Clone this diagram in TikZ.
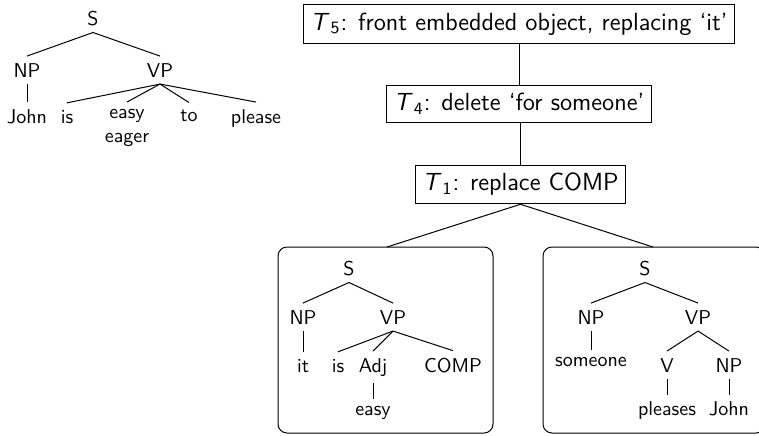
\documentclass[tikz,border=0pt]{standalone}
\renewcommand{\familydefault}{\sfdefault}
\newcommand{\tname}[1]{\textit{T}\kern0.5pt\textsubscript{#1}}
\begin{document}
\begin{tikzpicture}[x=0.5pt,y=-0.5pt,
  lab/.style={anchor=base,inner sep=3.33pt,font=\fontsize{10}{12}\selectfont},
  stack/.style={anchor=north,inner sep=3.33pt,align=center,font=\fontsize{10}{11}\selectfont},
  tbox/.style={draw,line width=0.5pt,inner xsep=3.5pt,inner ysep=4pt,font=\fontsize{12.4}{14}\selectfont},
  frame/.style={draw,line width=0.5pt,rounded corners=4.5pt},
  edge/.style={line width=0.5pt}]
\useasboundingbox (0,0) rectangle (759,435);

% sentence tree: John is easy/eager to please
\node[lab] (s0) at (93,25) {S};
\node[lab] (np0) at (27,77) {NP};
\node[lab] (vp0) at (160,77) {VP};
\node[lab] (john0) at (27,123) {John};
\node[lab] (is0) at (67,123) {is};
\node[stack] (adj0) at (127,102) {easy\\[1pt]eager};
\node[lab] (to0) at (189,121) {to};
\node[lab] (pl0) at (256,123) {please};
\draw[edge] (s0.south) -- (np0.north);
\draw[edge] (s0.south) -- (vp0.north);
\draw[edge] (np0.south) -- (john0.north);
\foreach \c in {is0,adj0,to0,pl0} \draw[edge] (vp0.south) -- (\c.north);

% chain of transformations
\node[tbox] (t5) at (519,24) {\tname{5}: front embedded object, replacing `it'};
\node[tbox] (t4) at (519,104) {\tname{4}: delete `for someone'};
\node[tbox] (t1) at (520.5,184.5) {\tname{1}: replace COMP};
\draw[edge] (t4.north) -- (t4.north |- t5.south);
\draw[edge] (t1.north) -- (t1.north |- t4.south);

% underlying clauses
\draw[frame] (278,247) rectangle (493,433);
\draw[frame] (543,247) rectangle (765,433);
\coordinate (lt) at (387,247);
\coordinate (rt) at (653,247);
\draw[edge] (t1.south) -- (lt);
\draw[edge] (t1.south) -- (rt);

% it is easy COMP
\node[lab] (s1) at (349,275) {S};
\node[lab] (np1) at (303,324) {NP};
\node[lab] (vp1) at (393,324) {VP};
\node[lab] (it1) at (303,372) {it};
\node[lab] (is1) at (338,372) {is};
\node[lab] (adj1) at (373,372) {Adj};
\node[lab] (comp1) at (453,372) {COMP};
\node[lab] (easy1) at (373,415.5) {easy};
\draw[edge] (s1.south) -- (np1.north);
\draw[edge] (s1.south) -- (vp1.north);
\draw[edge] (np1.south) -- (it1.north);
\foreach \c in {is1,adj1,comp1} \draw[edge] (vp1.south) -- (\c.north);
\draw[edge] (adj1.south) -- (easy1.north);

% someone pleases John
\node[lab] (s2) at (645,275) {S};
\node[lab] (np2) at (591,324) {NP};
\node[lab] (vp2) at (698,324) {VP};
\node[lab] (some2) at (591,366.5) {someone};
\node[lab] (v2) at (667,372) {V};
\node[lab] (np3) at (729,372) {NP};
\node[lab] (pl2) at (667,415.5) {pleases};
\node[lab] (john2) at (729,415.5) {John};
\draw[edge] (s2.south) -- (np2.north);
\draw[edge] (s2.south) -- (vp2.north);
\draw[edge] (np2.south) -- (some2.north);
\draw[edge] (vp2.south) -- (v2.north);
\draw[edge] (vp2.south) -- (np3.north);
\draw[edge] (v2.south) -- (pl2.north);
\draw[edge] (np3.south) -- (john2.north);
\end{tikzpicture}
\end{document}
